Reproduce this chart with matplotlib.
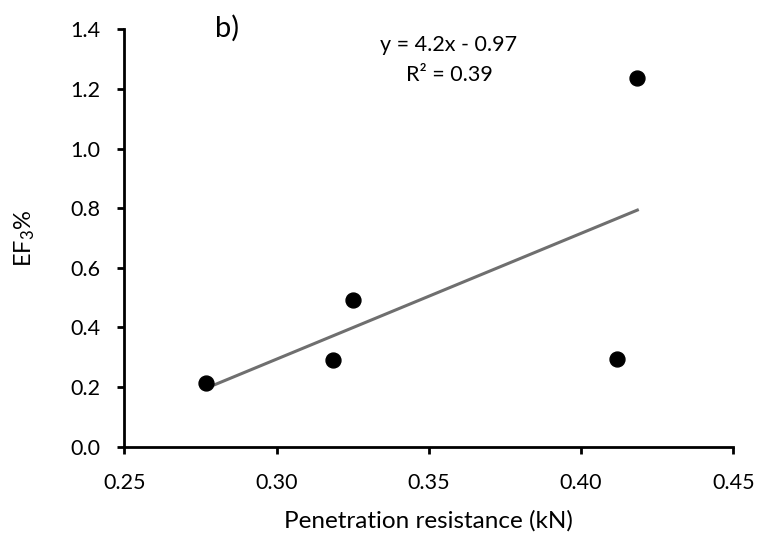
import matplotlib
matplotlib.use("Agg")
import matplotlib.pyplot as plt
import numpy as np

# data
resistance = [0.2767, 0.3184, 0.3251, 0.4119, 0.4185]
ef3 = [0.213, 0.291, 0.4925, 0.293, 1.237]

x_ticks = [0.25, 0.30, 0.35, 0.40, 0.45]
y_ticks = [0.0, 0.2, 0.4, 0.6, 0.8, 1.0, 1.2, 1.4]

plt.rcParams['font.family'] = ['Lato', 'DejaVu Sans']
plt.rcParams['mathtext.fontset'] = 'custom'
plt.rcParams['mathtext.rm'] = 'Lato'
plt.rcParams['mathtext.it'] = 'Lato:italic'

fig = plt.figure(figsize=(7.62, 5.38), dpi=100)
ax = fig.add_axes([0.1631, 0.1697, 0.7992, 0.7755])

# linear trend line
slope, intercept = np.polyfit(resistance, ef3, 1)
xs = np.array([min(resistance), max(resistance)])
ax.plot(xs, slope * xs + intercept, color='#6f6f6f', linewidth=2.2, zorder=2)

ax.scatter(resistance, ef3, s=115, color='black', zorder=3, clip_on=False)

ax.set_xlim(0.25, 0.45)
ax.set_ylim(0.0, 1.4)
ax.set_xticks(x_ticks)
ax.set_yticks(y_ticks)
ax.set_xticklabels([f"{v:.2f}" for v in x_ticks])
ax.set_yticklabels([f"{v:.1f}" for v in y_ticks])

for side in ['top', 'right']:
    ax.spines[side].set_visible(False)
for side in ['left', 'bottom']:
    ax.spines[side].set_linewidth(2.0)
    ax.spines[side].set_color('black')
ax.tick_params(axis='both', direction='out', length=5, width=2.0,
               labelsize=15.5, colors='black')
ax.tick_params(axis='x', pad=14)
ax.tick_params(axis='y', pad=12)

ax.set_xlabel('Penetration resistance (kN)', fontsize=17.5)
ax.set_ylabel('EF$_{3}$%', fontsize=17)
ax.xaxis.set_label_coords(0.5, -0.152)
ax.yaxis.set_label_coords(-0.143, 0.5)
ax.yaxis.label.set_va('bottom')

r2 = np.corrcoef(resistance, ef3)[0, 1] ** 2
fig.text(449 / 762, 1 - 45 / 538, f"y = {slope:.1f}x - {abs(intercept):.2f}",
         ha='center', va='center', fontsize=15.5)
fig.text(449 / 762, 1 - 75 / 538, f"R² = {r2:.2f}",
         ha='center', va='center', fontsize=15.5)
fig.text(215 / 762, 1 - 28 / 538, 'b)', ha='left', va='center', fontsize=21)

fig.savefig('out.png', dpi=100, facecolor='white')
